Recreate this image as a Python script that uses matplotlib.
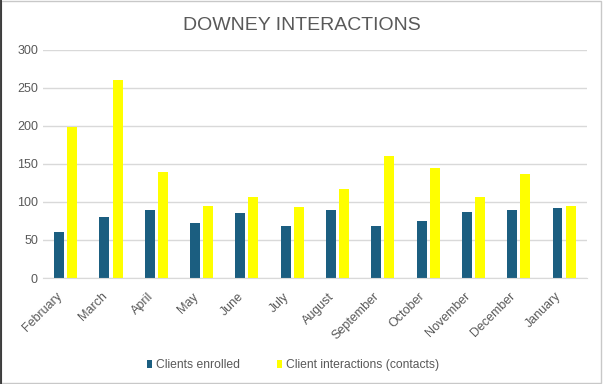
import numpy as np
import matplotlib.pyplot as plt
import matplotlib.transforms as mtransforms
from matplotlib.patches import Rectangle
from matplotlib.lines import Line2D

plt.rcParams['font.family'] = ['Liberation Sans', 'DejaVu Sans']

months = ['February', 'March', 'April', 'May', 'June', 'July', 'August',
          'September', 'October', 'November', 'December', 'January']
enrolled = [60, 80, 90, 72, 86, 69, 90, 69, 75, 87, 90, 92]
interactions = [198, 261, 140, 95, 107, 93, 117, 160, 145, 107, 137, 95]

BLUE = '#1B5E80'
YELLOW = '#FFFF00'
GREY = '#595959'

fig = plt.figure(figsize=(6.03, 3.84), dpi=100)
ax = fig.add_axes([0.0713, 0.276, 0.9017, 0.594])

x = np.arange(len(months))
w = 0.22
ax.bar(x - 0.145, enrolled, width=w, color=BLUE, label='Clients enrolled', zorder=2)
ax.bar(x + 0.145, interactions, width=w, color=YELLOW, label='Client interactions (contacts)', zorder=2)

ax.set_xlim(-0.5, len(months) - 0.5)
ax.set_ylim(0, 300)
ax.set_yticks(range(0, 301, 50))
ax.yaxis.grid(True, color='#D9D9D9', linewidth=1, zorder=0)
ax.set_axisbelow(True)
for s in ['top', 'right', 'left']:
    ax.spines[s].set_visible(False)
ax.spines['bottom'].set_color('#D9D9D9')
ax.tick_params(axis='both', length=0, colors=GREY, labelsize=9)
ax.tick_params(axis='y', pad=3.6)
ax.tick_params(axis='x', pad=12)
ax.set_xticks(x)
ax.set_xticklabels(months, rotation=45, ha='right', va='center', rotation_mode='anchor')
# nudge the rotated labels a little to the left
shift = mtransforms.ScaledTranslation(-0.05, 0, fig.dpi_scale_trans)
for lbl in ax.get_xticklabels():
    lbl.set_transform(lbl.get_transform() + shift)

fig.suptitle('DOWNEY INTERACTIONS', x=0.5, y=0.956, fontsize=14, color=GREY)

ax.legend(loc='center', bbox_to_anchor=(0.486, 0.049), bbox_transform=fig.transFigure,
          ncol=2, frameon=False, fontsize=8.7, handlelength=0.42, handleheight=0.66,
          columnspacing=3.0, handletextpad=0.33, labelcolor=GREY)

# chart frame: light grey box, darker left edge
fig.patches.append(Rectangle((0.001, 0.003), 0.996, 0.995, transform=fig.transFigure,
                             fill=False, edgecolor='#C8C8C8', linewidth=1))
fig.add_artist(Line2D([0.0012, 0.0012], [0, 1], transform=fig.transFigure,
                      color='#202020', linewidth=1.2))

fig.savefig('out.png', dpi=100)
